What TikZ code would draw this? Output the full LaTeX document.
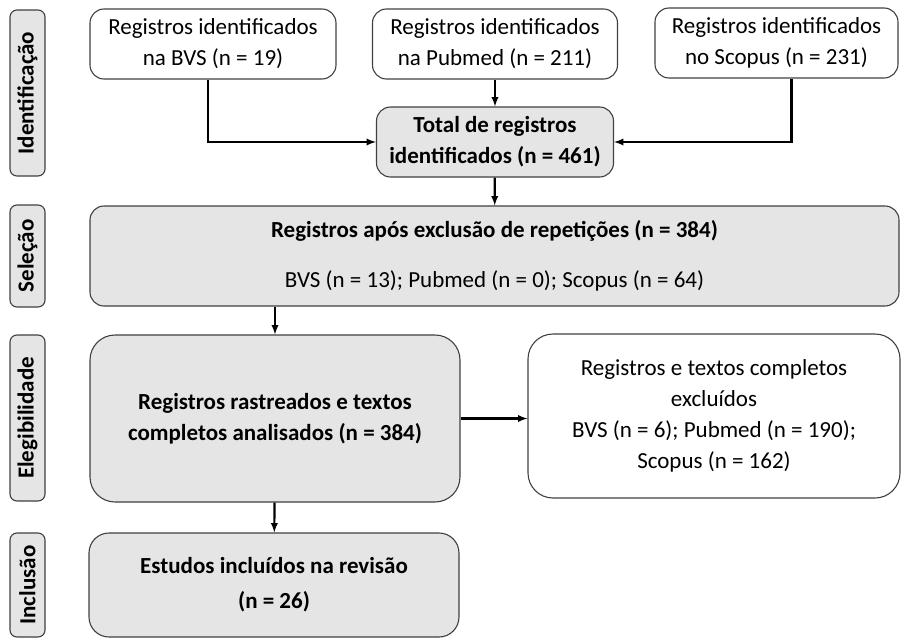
\documentclass[tikz,border=0pt]{standalone}
\usepackage{fontspec}
\setmainfont{Carlito}
\usetikzlibrary{calc}

\begin{document}
\begin{tikzpicture}[x=1pt,y=-1pt,
	block/.style={draw=black!75,line width=1.1pt,rounded corners=14pt,align=center,inner sep=0pt},
	grayblock/.style={block,fill=black!10},
	phase/.style={grayblock,rotate=90,minimum height=35pt,font=\fontsize{23}{25}\selectfont\bfseries,rounded corners=7pt},
	flow/.style={-latex,line width=2.2pt},
	font=\fontsize{23}{31}\selectfont]
	\useasboundingbox (0,0) rectangle (906,640);
	% fases
	\draw (27.5,93) node[phase,minimum width=166pt] (PI) {Identificação}
	(27.5,256) node[phase,minimum width=102pt] (PS) {Seleção}
	(27.5,418) node[phase,minimum width=166pt] (PE) {Elegibilidade}
	(27.5,585) node[phase,minimum width=104pt] (PN) {Inclusão};
	% identificacao
	\draw (213,44) node[block,minimum width=246pt,minimum height=70pt] (BVS) {Registros identificados\\na BVS (n = 19)}
	(495,44) node[block,minimum width=245pt,minimum height=70pt] (Pub) {Registros identificados\\na Pubmed (n = 211)}
	(776.5,43) node[block,minimum width=243pt,minimum height=70pt] (Sco) {Registros identificados\\no Scopus (n = 231)};
	\draw (495,142) node[grayblock,minimum width=237pt,minimum height=70pt] (Tot) {\textbf{Total de registros}\\\textbf{identificados (n = 461)}};
	% selecao, elegibilidade, inclusao
	\draw (494.5,256) node[grayblock,minimum width=809pt,minimum height=100pt] (Sel) {\textbf{Registros após exclusão de repetições (n = 384)}\\[19pt]BVS (n = 13); Pubmed (n = 0); Scopus (n = 64)};
	\draw (275,418.5) node[grayblock,rounded corners=25pt,minimum width=370pt,minimum height=167pt] (Ele) {\textbf{Registros rastreados e textos}\\\textbf{completos analisados (n = 384)}};
	\draw (714,416) node[block,rounded corners=25pt,minimum width=372pt,minimum height=164pt] (Exc) {Registros e textos completos\\excluídos\\BVS (n = 6); Pubmed (n = 190);\\Scopus (n = 162)};
	\draw (274,585) node[grayblock,rounded corners=20pt,minimum width=370pt,minimum height=104pt] (Est) {\textbf{Estudos incluídos na revisão}\\[4pt]\textbf{(n = 26)}};
	% setas
	\draw[flow] ([xshift=-5pt]BVS.south) |- (Tot.west);
	\draw[flow] ([xshift=15pt]Sco.south) |- (Tot.east);
	\draw[flow] (Pub) -- (Tot);
	\draw[flow] (Tot) -- (Sel);
	\draw[flow] (Ele.north |- Sel.south) -- (Ele.north);
	\draw[flow] (Ele.east) -- (Ele.east -| Exc.west);
	\draw[flow] (Ele) -- (Est);
\end{tikzpicture}
\end{document}
